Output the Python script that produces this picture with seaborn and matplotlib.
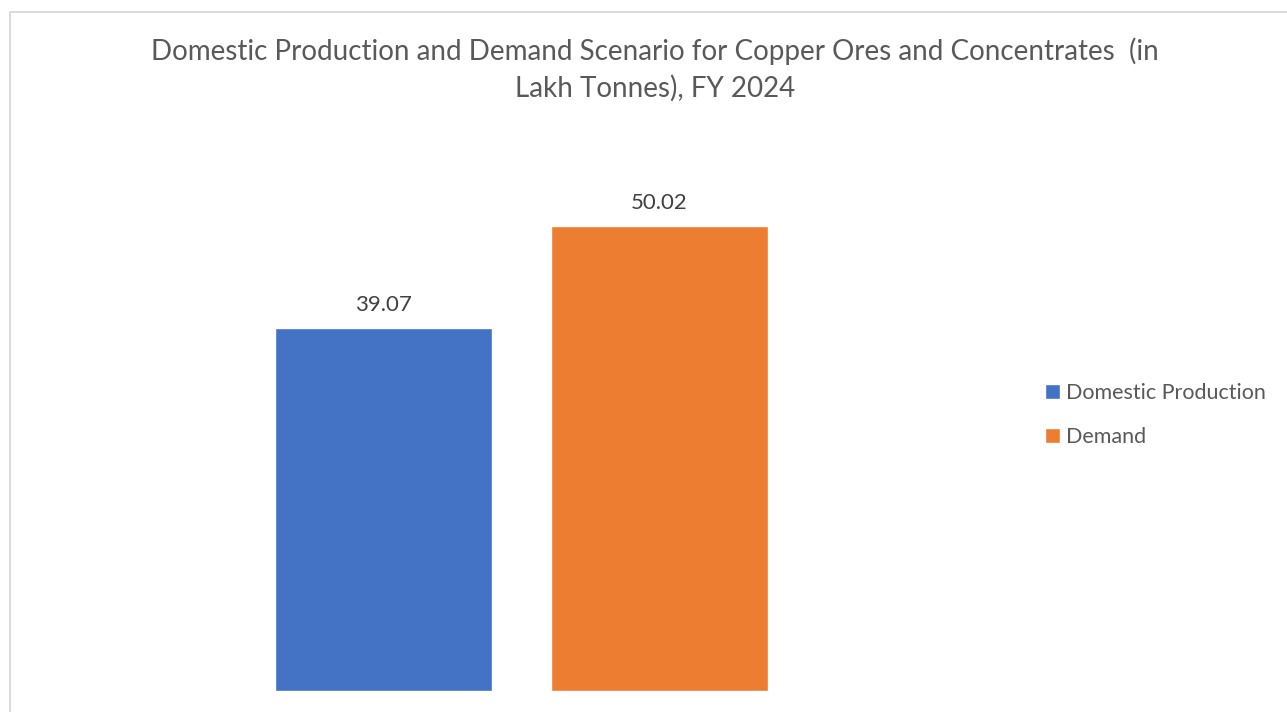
import matplotlib
matplotlib.use("Agg")
import matplotlib.pyplot as plt
import seaborn as sns
import pandas as pd
from matplotlib.patches import Rectangle

series = ["Domestic Production", "Demand"]
values = [39.07, 50.02]
colors = ["#4472C4", "#ED7D31"]
title = "Domestic Production and Demand Scenario for Copper Ores and Concentrates  (in\nLakh Tonnes), FY 2024"

sns.set_theme(style="white")
plt.rcParams['font.family'] = ['Lato', 'DejaVu Sans']

W, H = 1287, 712
fig = plt.figure(figsize=(W / 100, H / 100), dpi=100)
fig.patch.set_facecolor("white")

# chart border (top and left visible)
fig.add_artist(Rectangle((9.5 / W, -0.1), 2, 1.1 - 12.5 / H, transform=fig.transFigure,
                         fill=False, edgecolor="#D9D9D9", linewidth=1.3))

ax_left, ax_right = 100, 943
ax_bot, ax_top = 691, 133
ax = fig.add_axes([ax_left / W, (H - ax_bot) / H, (ax_right - ax_left) / W, (ax_bot - ax_top) / H])

df = pd.DataFrame({"series": series, "value": values})
sns.barplot(data=df, x="series", y="value", hue="series", palette=colors,
            width=217 / 276, ax=ax, legend=True, saturation=1)

half = (ax_right - ax_left) / 2 / 276
ax.set_xlim(0.5 - half, 0.5 + half)
ax.set_ylim(0, 60)
ax.set_axis_off()

for c in ax.containers:
    ax.bar_label(c, labels=[f"{v:.2f}" for v in c.datavalues], padding=9,
                 fontsize=16, color="#404040")

handles, labels = ax.get_legend_handles_labels()
if ax.get_legend() is not None:
    ax.get_legend().remove()
fig.legend(handles, labels, loc="upper left", bbox_to_anchor=(1036 / W, 1 - 374 / H),
           frameon=False, fontsize=15.5, labelcolor="#595959", handlelength=0.7,
           handleheight=0.7, handletextpad=0.3, labelspacing=1.15, borderaxespad=0)

fig.text(655 / W, 1 - 37 / H, title, ha="center", va="top", fontsize=20,
         color="#595959", linespacing=1.45)

fig.savefig("out.png", dpi=100, facecolor="white")
